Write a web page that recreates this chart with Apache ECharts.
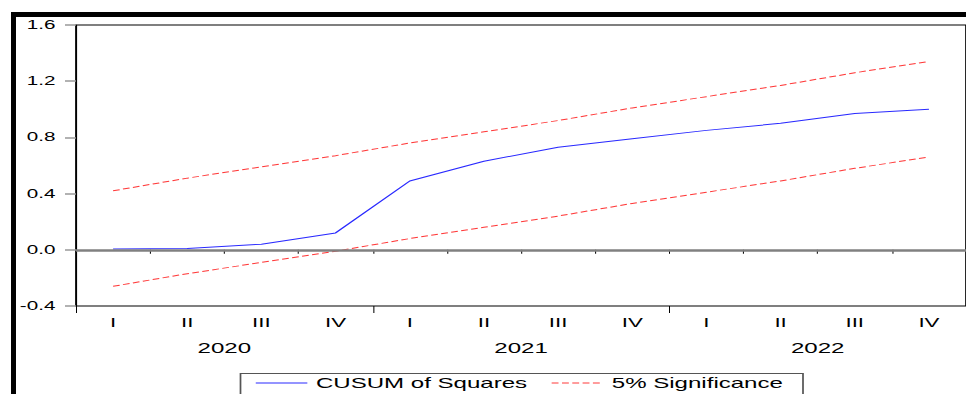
<!DOCTYPE html>
<html>
<head>
<meta charset="utf-8">
<script src="https://cdn.jsdelivr.net/npm/echarts@6/dist/echarts.min.js"></script>
<style>
  html, body { margin: 0; padding: 0; background: #fff; overflow: hidden; }
  #wrap { width: 966px; height: 394px; overflow: hidden; position: relative; }
  #c { width: 562px; height: 394px; transform: scaleX(1.7189); transform-origin: 0 0; position: absolute; left: 0; top: 0; }
</style>
</head>
<body>
<div id="wrap"><div id="c"></div></div>
<script>
// ---- data ----
const categories = ['2020Q1','2020Q2','2020Q3','2020Q4','2021Q1','2021Q2','2021Q3','2021Q4','2022Q1','2022Q2','2022Q3','2022Q4'];
const quarterLabels = ['I','II','III','IV','I','II','III','IV','I','II','III','IV'];
const years = ['2020','2021','2022'];
const cusumSquares = [0.005, 0.01, 0.04, 0.12, 0.49, 0.63, 0.73, 0.79, 0.85, 0.90, 0.97, 1.00];
const upper5 = [0.42, 0.51, 0.59, 0.67, 0.76, 0.84, 0.92, 1.01, 1.09, 1.17, 1.26, 1.34];
const lower5 = [-0.26, -0.17, -0.09, -0.01, 0.08, 0.16, 0.24, 0.33, 0.41, 0.49, 0.58, 0.66];
const yTicks = { min: -0.4, max: 1.6, interval: 0.4 };

const SX = 1.7189; // horizontal stretch of the reference picture
const FONT = '"Liberation Sans", Arial, sans-serif';

const chart = echarts.init(document.getElementById('c'), null, { renderer: 'svg' });
const RED = '#ff3b3b';
const BLUE = '#2a2aff';
const redDash = { color: RED, width: 1, type: [4, 2] };
const noSymbol = { color: 'rgba(0,0,0,0)', borderWidth: 0, opacity: 0 };

chart.setOption({
  animation: false,
  backgroundColor: '#fff',
  textStyle: { fontFamily: FONT },
  grid: { left: 76 / SX, right: -2, top: 25, bottom: 88, show: true, borderColor: '#000', borderWidth: 1, containLabel: false },
  xAxis: [
    {
      type: 'category', data: categories, boundaryGap: true, position: 'bottom', offset: 0,
      axisLine: { show: true, lineStyle: { color: '#000', width: 1 } },
      axisTick: { show: true, interval: 0, length: 4, lineStyle: { color: '#000', width: 0.6 } },
      axisLabel: { interval: 0, margin: 10, fontSize: 13, color: '#000', fontFamily: FONT,
        formatter: (v, i) => quarterLabels[i] },
      splitLine: { show: false }
    },
    {
      type: 'category', data: years, boundaryGap: true, position: 'bottom', offset: 0,
      axisLine: { show: false },
      axisTick: { show: true, interval: 0, length: 7, lineStyle: { color: '#000', width: 0.6 } },
      axisLabel: { interval: 0, margin: 35, fontSize: 14, color: '#000', fontFamily: FONT },
      splitLine: { show: false }
    }
  ],
  yAxis: {
    type: 'value', min: yTicks.min, max: yTicks.max, interval: yTicks.interval,
    axisLine: { show: true, lineStyle: { color: '#000', width: 0.7 } },
    axisTick: { show: true, length: 11 / SX, lineStyle: { color: '#999', width: 1.5 } },
    axisLabel: { margin: 12, fontSize: 12, color: '#000', fontFamily: FONT,
      formatter: v => v.toFixed(1) },
    splitLine: { show: false }
  },
  legend: {
    data: [
      { name: 'CUSUM of Squares', itemStyle: noSymbol, lineStyle: { color: BLUE, width: 1, type: 'solid', opacity: 1 } },
      { name: '5% Significance', itemStyle: noSymbol, lineStyle: { color: RED, width: 1, type: [4, 2], opacity: 1 } }
    ],
    left: 148.3, top: 376, padding: 0, itemWidth: 30, itemHeight: 14, itemGap: 13.7,
    textStyle: { fontSize: 14, color: '#000', fontFamily: FONT }
  },
  graphic: [
    { type: 'rect', shape: { x: 11 / SX, y: 12, width: 600, height: 5 }, style: { fill: '#000' }, silent: true },
    { type: 'rect', shape: { x: 11 / SX, y: 12, width: 5 / SX, height: 400 }, style: { fill: '#000' }, silent: true },
    { type: 'rect', shape: { x: 240.5 / SX, y: 373.5, width: (803 - 240.5) / SX, height: 40 },
      style: { fill: 'none', stroke: '#555', lineWidth: 1 }, silent: true, z: 0 }
  ],
  series: [
    {
      name: '5% Significance', type: 'line', data: lower5, xAxisIndex: 0, symbol: 'none',
      lineStyle: redDash, itemStyle: { color: RED },
      markLine: { silent: true, symbol: 'none', label: { show: false },
        lineStyle: { color: '#808080', width: 2.5, type: 'solid' }, data: [{ yAxis: 0 }] },
      z: 2
    },
    {
      name: '5% Significance', type: 'line', data: upper5, xAxisIndex: 0, symbol: 'none',
      lineStyle: redDash, itemStyle: { color: RED }, z: 3
    },
    {
      name: 'CUSUM of Squares', type: 'line', data: cusumSquares, xAxisIndex: 0, symbol: 'none',
      lineStyle: { color: BLUE, width: 1 }, itemStyle: { color: BLUE }, z: 4
    }
  ]
});
</script>
</body>
</html>
